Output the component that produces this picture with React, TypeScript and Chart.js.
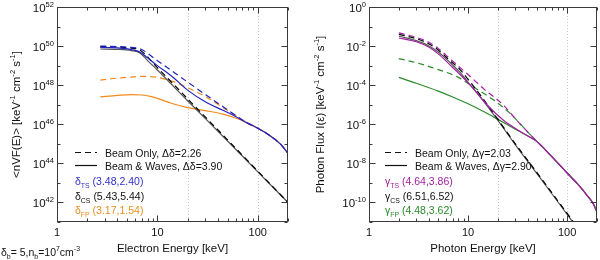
import React, { useEffect, useRef } from 'react';
import { Chart, registerables } from 'chart.js';

Chart.register(...registerables);

const FONT = '"Liberation Sans", Arial, Helvetica, sans-serif';

// ---------- axis / tick definitions ----------
const X_MIN = 1;
const X_MAX = 200;
const X_TICK_VALUES = [1, 10, 100];
const X_TICK_LABELS = ['1', '10', '100'];
const X_MINOR_TICKS = [2, 3, 4, 5, 6, 7, 8, 9, 20, 30, 40, 50, 60, 70, 80, 90, 200];
const X_GRID_VALUES = [20, 100];
const LEFT_Y_MIN = 1e41;
const LEFT_Y_MAX = 1e52;
const LEFT_Y_LABEL_EXPONENTS = [42, 44, 46, 48, 50, 52];
const RIGHT_Y_MIN = 1e-11;
const RIGHT_Y_MAX = 1;
const RIGHT_Y_LABEL_EXPONENTS = [-10, -8, -6, -4, -2, 0];

// ---------- left panel: electron spectra <nVF(E)> ----------
const elecTail_E = [100, 125, 150, 175, 200];
const elecTail = [6.3e45, 3.2e45, 1.6e45, 7.9e44, 3.2e44];

const elecTSsolid_E = [2.7, 3.5, 4.5, 5.5, 6.7, 8, 10, 14, 20, 30, 45, 60, 75];
const elecTSsolid = [8.5e49, 8.3e49, 7.6e49, 6.6e49, 5.0e49, 2.5e49, 1.0e49, 2.8e48, 5.6e47, 1.41e47, 5.2e46, 2.5e46, 1.32e46];

const elecTSdash_E = [2.7, 4, 5.5, 6.7, 10, 20, 40, 60, 75];
const elecTSdash = [1.0e50, 9.5e49, 8.5e49, 7.4e49, 1.8e49, 1.45e48, 1.2e47, 2.9e46, 1.32e46];

const elecCSdash_E = [2.7, 4, 5.5, 6.7, 10, 20, 50, 100, 200];
const elecCSdash = [9.5e49, 9.1e49, 7.9e49, 6.3e49, 7.9e48, 2.0e47, 1.6e45, 4.0e43, 1.0e42];

const elecCSsolid_E = [2.7, 4, 5.5, 6.7, 8, 10, 20, 50, 100, 200];
const elecCSsolid = [7.1e49, 6.8e49, 5.9e49, 4.5e49, 1.8e49, 6.0e48, 1.6e47, 1.4e45, 3.7e43, 1.0e42];

const elecFPdash_E = [2.7, 4, 5.5, 7, 8.5, 10, 14, 20, 30, 45, 60, 75];
const elecFPdash = [1.82e48, 2.3e48, 2.6e48, 2.8e48, 2.75e48, 2.5e48, 1.6e48, 7.4e47, 2.6e47, 7.1e46, 2.8e46, 1.35e46];

const elecFPsolid_E = [2.7, 4, 5.5, 7, 8.5, 10, 14, 20, 30, 45, 60, 75];
const elecFPsolid = [2.5e47, 3.0e47, 3.3e47, 3.15e47, 2.65e47, 2.1e47, 1.15e47, 7.1e46, 5.0e46, 3.3e46, 2.1e46, 1.32e46];

// ---------- right panel: photon spectra I(eps) ----------
const photTail_E = [70, 100, 130, 160, 185, 200];
const photTail = [2.2e-8, 3.2e-9, 7.9e-10, 2.2e-10, 7.9e-11, 3.2e-11];

const photTSsolid_E = [2, 3, 4, 5, 6.6, 8.3, 10.5, 15.5, 22.6, 33, 50];
const photTSsolid = [2.6e-2, 1.66e-2, 8.9e-3, 4.0e-3, 1.07e-3, 3.5e-4, 1.0e-4, 1.0e-5, 1.66e-6, 4.5e-7, 1.26e-7];

const photTSdash_E = [2, 3, 4, 5, 6.6, 8.3, 10, 14.5, 22, 33, 50];
const photTSdash = [4.7e-2, 2.8e-2, 1.58e-2, 7.6e-3, 2.2e-3, 7.9e-4, 3.5e-4, 6.3e-5, 1.12e-5, 1.12e-6, 1.26e-7];

const photCS_E = [2, 3, 4, 5, 6.6, 8.3, 10, 14, 20, 30, 50, 80, 120];
const photCSdash = [4.0e-2, 2.4e-2, 1.32e-2, 6.3e-3, 1.78e-3, 6.3e-4, 2.0e-4, 2.2e-5, 1.78e-6, 1.0e-7, 3.2e-9, 1.26e-10, 7.9e-12];
const photCSsolid = [3.2e-2, 1.9e-2, 1.05e-2, 5.0e-3, 1.41e-3, 4.5e-4, 1.41e-4, 1.78e-5, 1.58e-6, 8.9e-8, 2.8e-9, 1.12e-10, 7.1e-12];

const photFPsolid_E = [2, 3, 5, 7, 10, 15, 20, 30, 40, 50];
const photFPsolid = [2.5e-4, 1.26e-4, 5.0e-5, 2.5e-5, 1.12e-5, 4.0e-6, 1.78e-6, 5.6e-7, 2.5e-7, 1.26e-7];

const photFPdash_E = [2, 3, 5, 8, 11, 18, 28, 40, 50];
const photFPdash = [2.3e-3, 1.41e-3, 6.3e-4, 2.5e-4, 8.9e-5, 1.78e-5, 2.8e-6, 4.0e-7, 1.26e-7];

// ---------- colours ----------
const BLUE = '#2222c0';
const ORANGE = '#f28a1e';
const PURPLE = '#a020a0';
const GREEN = '#2a8a2a';
const GREY = '#555555';
const DASH = [6, 4];

type Seg = { t: string; s?: 'sup' | 'sub' };

function pts(xs: number[], ys: number[], tailX: number[] = [], tailY: number[] = []) {
  const X = xs.concat(tailX);
  const Y = ys.concat(tailY);
  return X.map((x, i) => ({ x, y: Y[i] }));
}

function ds(data: any[], color: string, dashed: boolean) {
  return {
    data,
    borderColor: color,
    borderWidth: 1.2,
    borderDash: dashed ? DASH : [],
    pointRadius: 0,
    fill: false,
    cubicInterpolationMode: 'monotone' as const,
  };
}

function drawRich(ctx: CanvasRenderingContext2D, segs: Seg[], x: number, y: number, size: number, align: 'left' | 'right' | 'center') {
  const small = size * 0.66;
  const widths = segs.map((sg) => {
    ctx.font = `${sg.s ? small : size}px ${FONT}`;
    return ctx.measureText(sg.t).width;
  });
  const total = widths.reduce((a, b) => a + b, 0);
  let cx = align === 'left' ? x : align === 'right' ? x - total : x - total / 2;
  ctx.textAlign = 'left';
  ctx.textBaseline = 'alphabetic';
  segs.forEach((sg, i) => {
    ctx.font = `${sg.s ? small : size}px ${FONT}`;
    const dy = sg.s === 'sup' ? -size * 0.45 : sg.s === 'sub' ? size * 0.28 : 0;
    ctx.fillText(sg.t, cx, y + dy);
    cx += widths[i];
  });
}

type LegendRow = { segs: Seg[]; color: string; y: number };
type PanelCfg = {
  left: number;
  yAxisWidth: number;
  padRight: number;
  yMin: number;
  yMax: number;
  yLabelExps: number[];
  yTitle: Seg[];
  yTitleX: number;
  xTitle: string;
  legendX: number;
  lineY1: number;
  lineY2: number;
  legendText1: string;
  legendText2: string;
  rows: LegendRow[];
  footer?: Seg[];
  datasets: any[];
};

function makePlugin(cfg: PanelCfg) {
  return {
    id: 'panelDecor',
    beforeDatasetsDraw(chart: any) {
      const { ctx, chartArea: a, scales } = chart;
      ctx.save();
      ctx.strokeStyle = '#c4c4c4';
      ctx.lineWidth = 1;
      ctx.setLineDash([1, 2]);
      for (const g of X_GRID_VALUES) {
        const px = Math.round(scales.x.getPixelForValue(g)) + 0.5;
        ctx.beginPath();
        ctx.moveTo(px, a.top);
        ctx.lineTo(px, a.bottom);
        ctx.stroke();
      }
      ctx.restore();
    },
    afterDraw(chart: any) {
      const { ctx, chartArea: a, scales } = chart;
      const xs = scales.x;
      const ys = scales.y;
      ctx.save();
      const L = Math.round(a.left) + 0.5;
      const R = Math.round(a.right) - 0.5;
      const T = Math.round(a.top) + 0.5;
      const B = Math.round(a.bottom) - 0.5;
      ctx.strokeStyle = '#3a3a3a';
      ctx.lineWidth = 1;
      ctx.setLineDash([]);
      ctx.strokeRect(L, T, R - L, B - T);
      const xt = (v: number, len: number) => {
        const px = Math.round(xs.getPixelForValue(v)) + 0.5;
        ctx.beginPath();
        ctx.moveTo(px, B);
        ctx.lineTo(px, B - len);
        ctx.moveTo(px, T);
        ctx.lineTo(px, T + len);
        ctx.stroke();
      };
      X_TICK_VALUES.forEach((v) => xt(v, 6));
      X_MINOR_TICKS.forEach((v) => xt(v, 3));
      const e0 = Math.round(Math.log10(cfg.yMin));
      const e1 = Math.round(Math.log10(cfg.yMax));
      for (let e = e0; e <= e1; e++) {
        const py = Math.round(ys.getPixelForValue(Math.pow(10, e))) + 0.5;
        const len = cfg.yLabelExps.includes(e) ? 6 : 3;
        ctx.beginPath();
        ctx.moveTo(L, py);
        ctx.lineTo(L + len, py);
        ctx.moveTo(R, py);
        ctx.lineTo(R - len, py);
        ctx.stroke();
      }
      ctx.fillStyle = '#111';
      ctx.font = `11px ${FONT}`;
      ctx.textAlign = 'center';
      ctx.textBaseline = 'alphabetic';
      X_TICK_VALUES.forEach((v, i) => {
        ctx.fillText(X_TICK_LABELS[i], xs.getPixelForValue(v), 236);
      });
      cfg.yLabelExps.forEach((e) => {
        const py = ys.getPixelForValue(Math.pow(10, e));
        drawRich(ctx, [{ t: '10' }, { t: String(e), s: 'sup' }], a.left - 3, py + 5, 11.5, 'right');
      });
      ctx.font = `11.5px ${FONT}`;
      ctx.textAlign = 'center';
      ctx.fillText(cfg.xTitle, (a.left + a.right) / 2, 252);
      ctx.save();
      ctx.translate(cfg.yTitleX, (a.top + a.bottom) / 2);
      ctx.rotate(-Math.PI / 2);
      drawRich(ctx, cfg.yTitle, 0, 4, 11.5, 'center');
      ctx.restore();
      const lx = cfg.legendX;
      ctx.strokeStyle = '#111';
      ctx.lineWidth = 1.2;
      ctx.setLineDash(DASH);
      ctx.beginPath();
      ctx.moveTo(lx, cfg.lineY1);
      ctx.lineTo(lx + 22, cfg.lineY1);
      ctx.stroke();
      ctx.setLineDash([]);
      ctx.beginPath();
      ctx.moveTo(lx, cfg.lineY2);
      ctx.lineTo(lx + 22, cfg.lineY2);
      ctx.stroke();
      ctx.fillStyle = '#111';
      ctx.font = `10.5px ${FONT}`;
      ctx.textAlign = 'left';
      ctx.fillText(cfg.legendText1, lx + 30, cfg.lineY1 + 4);
      ctx.fillText(cfg.legendText2, lx + 30, cfg.lineY2 + 4);
      cfg.rows.forEach((r) => {
        ctx.fillStyle = r.color;
        drawRich(ctx, r.segs, lx, r.y + 4, 10.5, 'left');
      });
      if (cfg.footer) {
        ctx.fillStyle = '#111';
        drawRich(ctx, cfg.footer, 1, 256, 10.5, 'left');
      }
      ctx.restore();
    },
  };
}

function Panel({ cfg }: { cfg: PanelCfg }) {
  const ref = useRef<HTMLCanvasElement>(null);
  useEffect(() => {
    const chart = new Chart(ref.current as HTMLCanvasElement, {
      type: 'line',
      data: { datasets: cfg.datasets },
      options: {
        animation: false,
        responsive: false,
        events: [],
        layout: { padding: { top: 7, right: cfg.padRight, left: 0, bottom: 0 } },
        plugins: { legend: { display: false }, tooltip: { enabled: false } },
        scales: {
          x: {
            type: 'logarithmic',
            min: X_MIN,
            max: X_MAX,
            grid: { display: false },
            border: { display: false },
            ticks: { display: false },
            afterFit: (s: any) => {
              s.height = 38;
            },
          },
          y: {
            type: 'logarithmic',
            min: cfg.yMin,
            max: cfg.yMax,
            grid: { display: false },
            border: { display: false },
            ticks: { display: false },
            afterFit: (s: any) => {
              s.width = cfg.yAxisWidth;
            },
          },
        },
      } as any,
      plugins: [makePlugin(cfg)],
    });
    return () => chart.destroy();
  }, []);
  return (
    <canvas
      ref={ref}
      width={300}
      height={260}
      style={{ position: 'absolute', left: cfg.left, top: 0, width: 300, height: 260 }}
    />
  );
}

const unitSegs: Seg[] = [
  { t: ' [keV' }, { t: '-1', s: 'sup' }, { t: ' cm' }, { t: '-2', s: 'sup' }, { t: ' s' }, { t: '-1', s: 'sup' }, { t: ']' },
];

const leftCfg: PanelCfg = {
  left: 0,
  yAxisWidth: 57,
  padRight: 12,
  yMin: LEFT_Y_MIN,
  yMax: LEFT_Y_MAX,
  yLabelExps: LEFT_Y_LABEL_EXPONENTS,
  yTitle: [{ t: '<nVF(E)>' }, ...unitSegs],
  yTitleX: 16,
  xTitle: 'Electron Energy [keV]',
  legendX: 75,
  lineY1: 152.5,
  lineY2: 165.5,
  legendText1: 'Beam Only, \u0394\u03b4=2.26',
  legendText2: 'Beam & Waves, \u0394\u03b4=3.90',
  rows: [
    { segs: [{ t: '\u03b4' }, { t: 'TS', s: 'sub' }, { t: ' (3.48,2.40)' }], color: '#3030c8', y: 181 },
    { segs: [{ t: '\u03b4' }, { t: 'CS', s: 'sub' }, { t: ' (5.43,5.44)' }], color: '#111', y: 196 },
    { segs: [{ t: '\u03b4' }, { t: 'FP', s: 'sub' }, { t: ' (3.17,1.54)' }], color: '#e8901e', y: 210 },
  ],
  footer: [
    { t: '\u03b4' }, { t: 'b', s: 'sub' }, { t: '= 5,n' }, { t: 'b', s: 'sub' }, { t: '=10' }, { t: '7', s: 'sup' }, { t: 'cm' }, { t: '-3', s: 'sup' },
  ],
  datasets: [
    ds(pts(elecTSsolid_E, elecTSsolid, elecTail_E, elecTail), BLUE, false),
    ds(pts(elecTSdash_E, elecTSdash, elecTail_E, elecTail), BLUE, true),
    ds(pts(elecCSdash_E, elecCSdash), '#000', true),
    ds(pts(elecCSsolid_E, elecCSsolid), GREY, false),
    ds(pts(elecFPsolid_E, elecFPsolid, elecTail_E, elecTail), ORANGE, false),
    ds(pts(elecFPdash_E, elecFPdash, elecTail_E, elecTail), ORANGE, true),
  ],
};

const rightCfg: PanelCfg = {
  left: 300,
  yAxisWidth: 69,
  padRight: 3,
  yMin: RIGHT_Y_MIN,
  yMax: RIGHT_Y_MAX,
  yLabelExps: RIGHT_Y_LABEL_EXPONENTS,
  yTitle: [{ t: 'Photon Flux I(\u03b5)' }, ...unitSegs],
  yTitleX: 20,
  xTitle: 'Photon Energy [keV]',
  legendX: 85,
  lineY1: 152.5,
  lineY2: 165.5,
  legendText1: 'Beam Only, \u0394\u03b3=2.03',
  legendText2: 'Beam & Waves, \u0394\u03b3=2.90',
  rows: [
    { segs: [{ t: '\u03b3' }, { t: 'TS', s: 'sub' }, { t: ' (4.64,3.86)' }], color: PURPLE, y: 181 },
    { segs: [{ t: '\u03b3' }, { t: 'CS', s: 'sub' }, { t: ' (6.51,6.52)' }], color: '#111', y: 196 },
    { segs: [{ t: '\u03b3' }, { t: 'FP', s: 'sub' }, { t: ' (4.48,3.62)' }], color: GREEN, y: 210 },
  ],
  datasets: [
    ds(pts(photTSsolid_E, photTSsolid, photTail_E, photTail), PURPLE, false),
    ds(pts(photTSdash_E, photTSdash, photTail_E, photTail), PURPLE, true),
    ds(pts(photCS_E, photCSdash), '#000', true),
    ds(pts(photCS_E, photCSsolid), GREY, false),
    ds(pts(photFPsolid_E, photFPsolid, photTail_E, photTail), GREEN, false),
    ds(pts(photFPdash_E, photFPdash, photTail_E, photTail), GREEN, true),
  ],
};

export default function App() {
  return (
    <div style={{ position: 'fixed', left: 0, top: 0, width: 600, height: 260, background: '#fff' }}>
      <Panel cfg={leftCfg} />
      <Panel cfg={rightCfg} />
    </div>
  );
}
